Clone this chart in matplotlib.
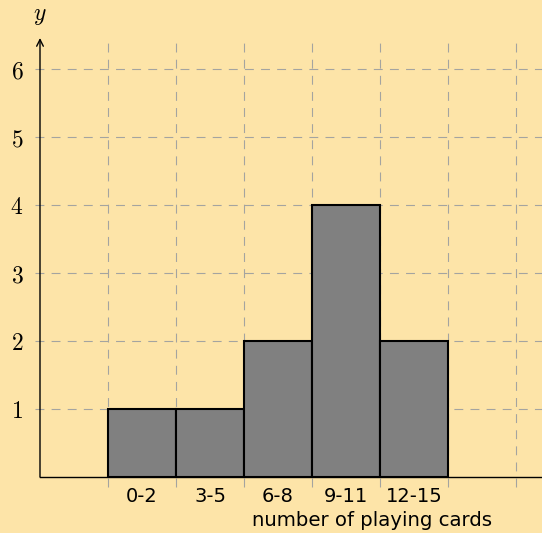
import matplotlib.pyplot as plt
import numpy as np

plt.rcParams['mathtext.fontset'] = 'cm'

bins = ['0-2', '3-5', '6-8', '9-11', '12-15']
counts = [1, 1, 2, 4, 2]
yticks = [1, 2, 3, 4, 5, 6]
xgrid = [1, 2, 3, 4, 5, 6, 7]

bg = '#FDE4A8'
fig = plt.figure(figsize=(5.42, 5.33), dpi=100, facecolor=bg)
ax = fig.add_axes([40 / 542, 56 / 533, 502 / 542, 439 / 533])
ax.set_facecolor(bg)

xmax = 502 / 68
ymax = 439 / 68
ax.set_xlim(0, xmax)
ax.set_ylim(0, ymax)

dash = (0, (8, 6.5))
gcol = '#a4a4a0'
for x in xgrid:
    ax.plot([x, x], [-0.15, ymax], color=gcol, lw=0.8, ls=dash, clip_on=False, zorder=1)
for y in yticks:
    ax.plot([-0.08, xmax], [y, y], color=gcol, lw=0.8, ls=dash, clip_on=False, zorder=1)

pos = np.arange(len(bins)) + 1.5
ax.bar(pos, counts, width=1, color='#808080', edgecolor='black', linewidth=1.5, zorder=3)

for s in ['top', 'right', 'left']:
    ax.spines[s].set_visible(False)
ax.spines['bottom'].set_linewidth(1.0)
ax.spines['bottom'].set_zorder(4)

ax.annotate('', xy=(0, ymax), xytext=(0, 0),
            arrowprops=dict(arrowstyle='->', lw=1.0, color='black', shrinkA=0, shrinkB=0,
                            mutation_scale=12),
            annotation_clip=False, zorder=5)

ax.set_xticks(pos)
ax.set_xticklabels(bins, fontsize=14)
ax.set_yticks(yticks)
ax.set_yticklabels(['$%d$' % v for v in yticks], fontsize=17)
ax.tick_params(axis='x', length=0, pad=7)
ax.tick_params(axis='y', length=0, pad=12)

ax.text(4.88, -0.64, 'number of playing cards', fontsize=14.2, ha='center', va='center',
        clip_on=False)
ax.text(0, 6.8, '$y$', fontsize=17, ha='center', va='center', clip_on=False)

fig.savefig('out.png', dpi=100, facecolor=bg)
